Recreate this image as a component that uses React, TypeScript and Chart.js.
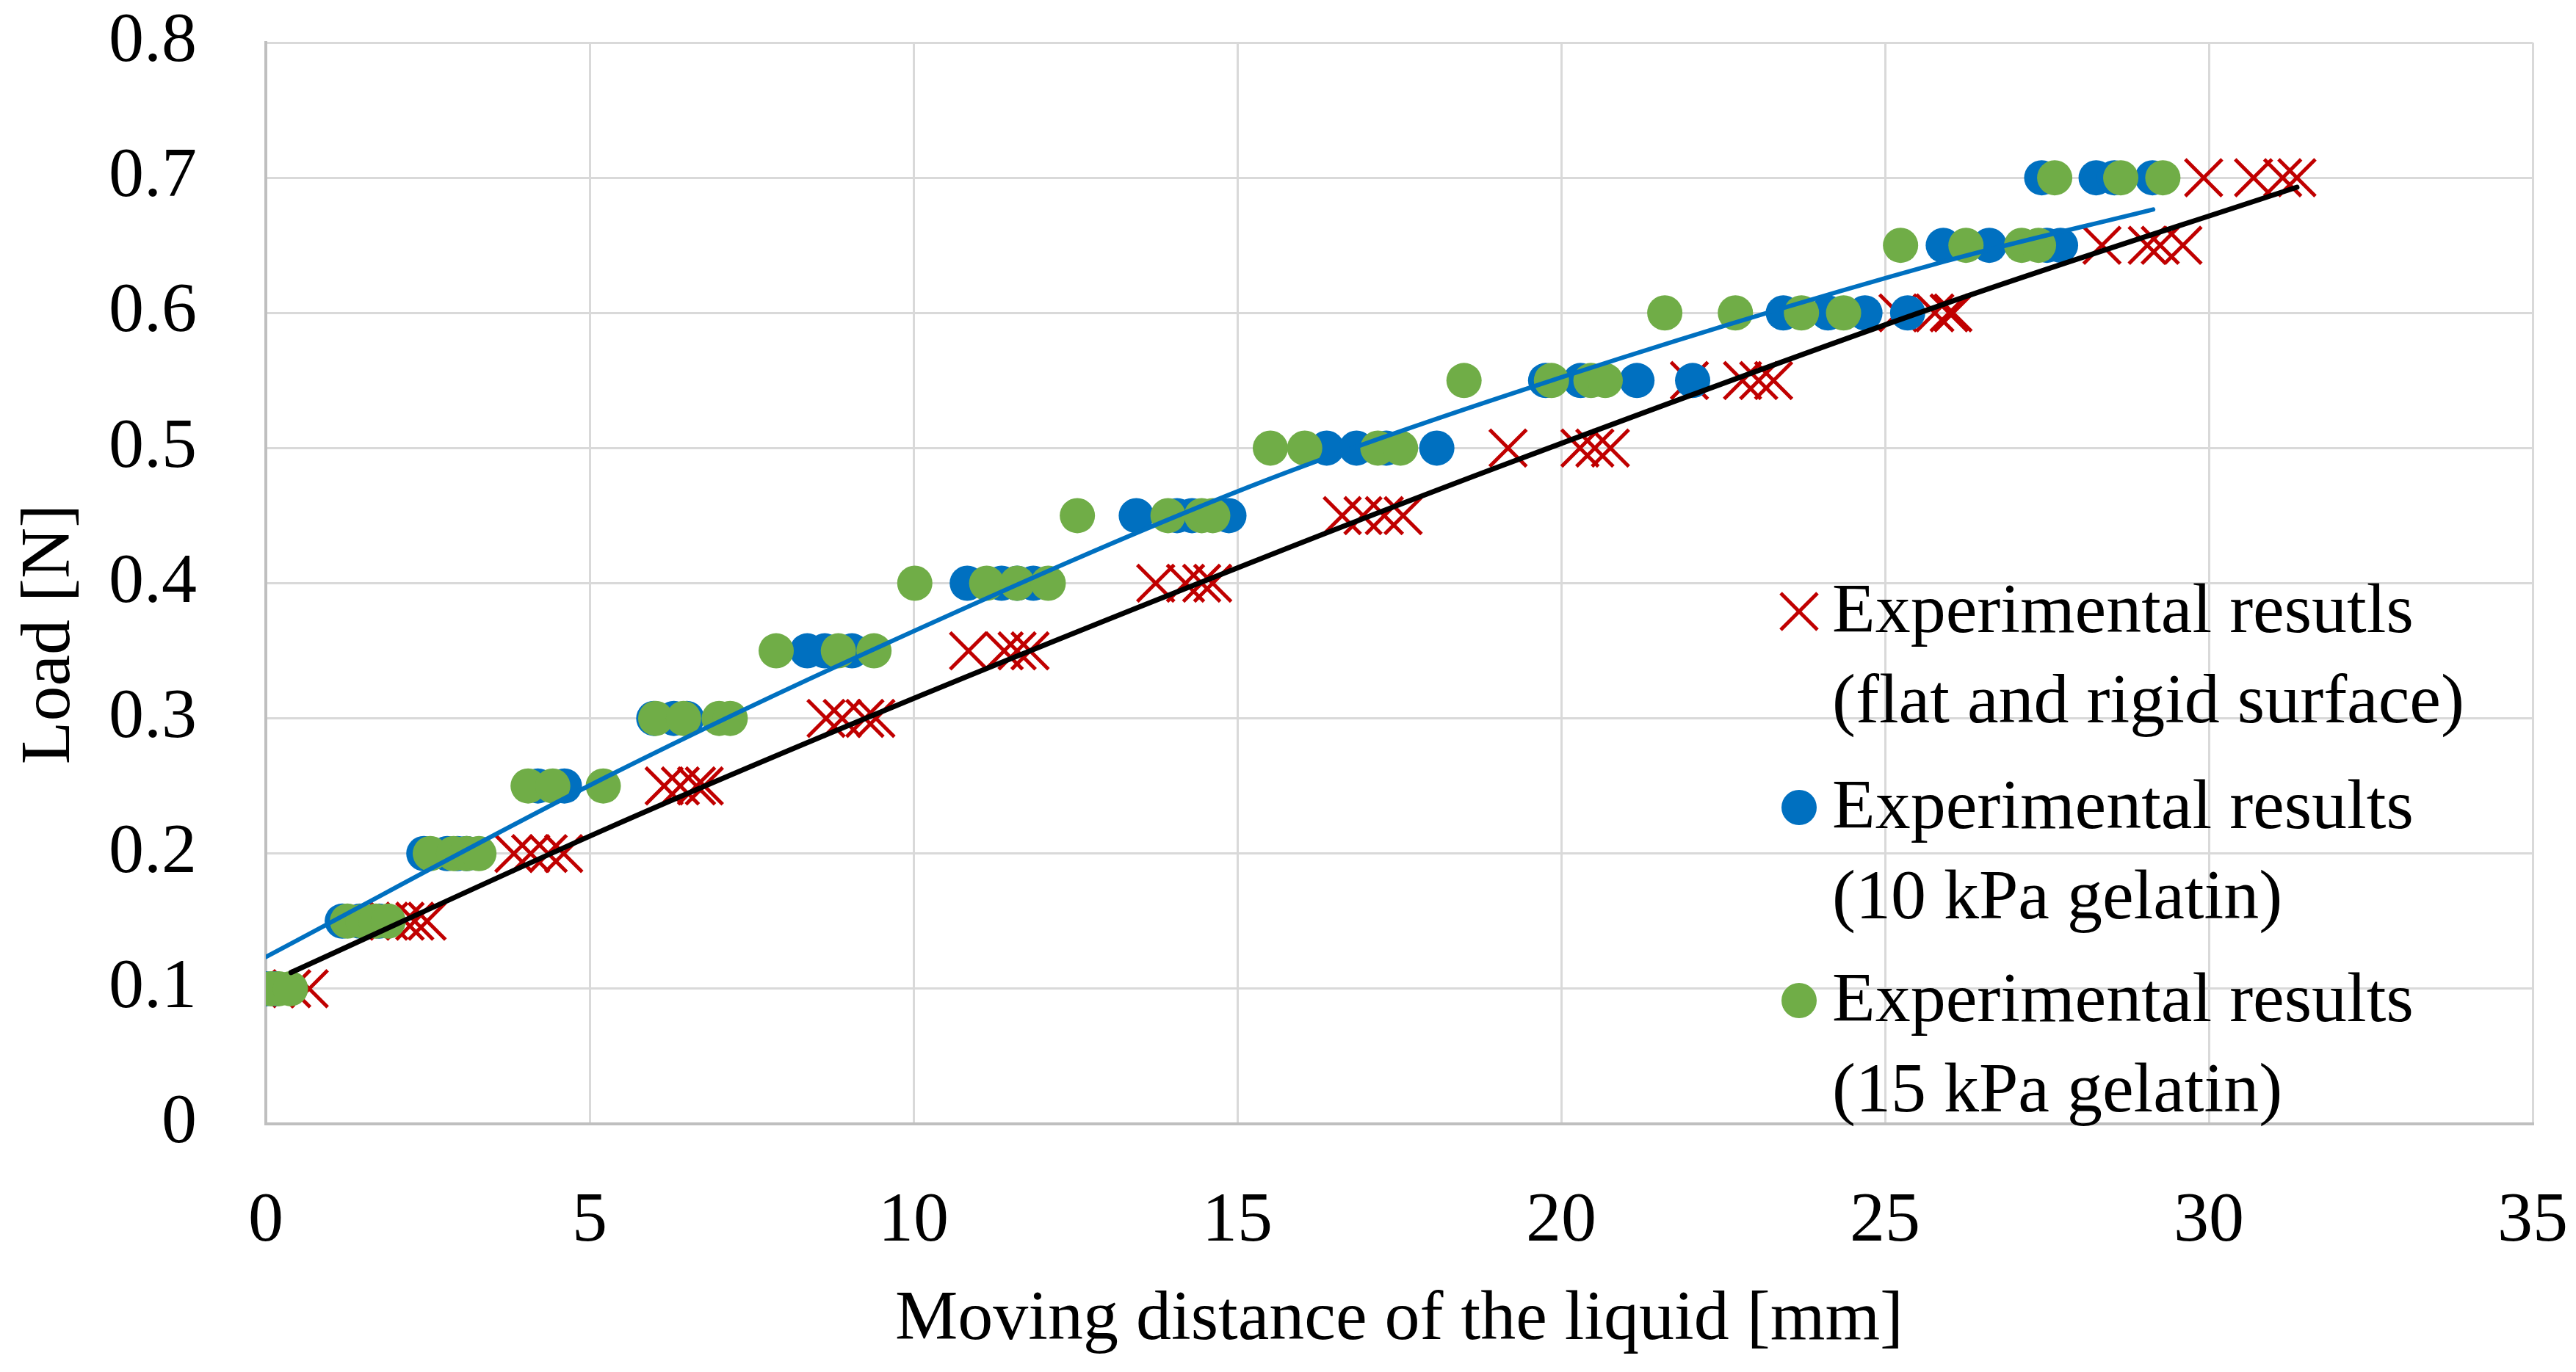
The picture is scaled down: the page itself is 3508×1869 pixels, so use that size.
import { useEffect, useRef } from "react"
import { Chart, registerables } from "chart.js"

Chart.register(...registerables)

// flat and rigid surface (red crosses)
const rigidX = [
  0.15, 0.4, 0.67,
  1.9, 2.15, 2.3, 2.49,
  3.83, 4.09, 4.36, 4.6,
  6.15, 6.4, 6.65, 6.77,
  8.65, 8.9, 9.25, 9.42,
  10.85, 11.4, 11.6, 11.8,
  13.74, 14.2, 14.45, 14.62,
  16.62, 16.94, 17.27, 17.56,
  19.18, 20.29, 20.52, 20.76,
  21.98, 22.8, 23.05, 23.28,
  25.2, 25.77, 25.99, 26.05,
  28.35, 29.05, 29.25, 29.6,
  29.92, 30.69, 31.14, 31.36,
]
const rigidY = [
  0.1, 0.1, 0.1,
  0.15, 0.15, 0.15, 0.15,
  0.2, 0.2, 0.2, 0.2,
  0.25, 0.25, 0.25, 0.25,
  0.3, 0.3, 0.3, 0.3,
  0.35, 0.35, 0.35, 0.35,
  0.4, 0.4, 0.4, 0.4,
  0.45, 0.45, 0.45, 0.45,
  0.5, 0.5, 0.5, 0.5,
  0.55, 0.55, 0.55, 0.55,
  0.6, 0.6, 0.6, 0.6,
  0.65, 0.65, 0.65, 0.65,
  0.7, 0.7, 0.7, 0.7,
]

// 10 kPa gelatin (blue dots)
const gel10X = [
  0.0, 0.15,
  1.18, 1.45, 1.75,
  2.44, 2.8, 2.96, 3.1,
  4.2, 4.61,
  5.99, 6.3, 6.5,
  8.36, 8.63, 9.05,
  10.83, 11.36, 11.6, 11.85,
  13.44, 14.07, 14.3, 14.87,
  16.38, 16.84, 17.3, 18.08,
  19.76, 20.3, 21.17, 22.03,
  23.43, 24.12, 24.69, 25.35,
  25.9, 26.61, 27.5, 27.71,
  27.42, 28.26, 28.54, 29.13,
]
const gel10Y = [
  0.1, 0.1,
  0.15, 0.15, 0.15,
  0.2, 0.2, 0.2, 0.2,
  0.25, 0.25,
  0.3, 0.3, 0.3,
  0.35, 0.35, 0.35,
  0.4, 0.4, 0.4, 0.4,
  0.45, 0.45, 0.45, 0.45,
  0.5, 0.5, 0.5, 0.5,
  0.55, 0.55, 0.55, 0.55,
  0.6, 0.6, 0.6, 0.6,
  0.65, 0.65, 0.65, 0.65,
  0.7, 0.7, 0.7, 0.7,
]

// 15 kPa gelatin (green dots)
const gel15X = [
  0.08, 0.2, 0.38,
  1.26, 1.5, 1.7, 1.89,
  2.54, 2.9, 3.1, 3.29,
  4.05, 4.43, 5.21,
  6.02, 6.45, 7.0, 7.17,
  7.88, 8.84, 9.39,
  10.02, 11.13, 11.6, 12.08,
  12.53, 13.93, 14.45, 14.62,
  15.51, 16.04, 17.17, 17.52,
  18.5, 19.85, 20.46, 20.68,
  21.6, 22.69, 23.71, 24.36,
  25.24, 26.25, 27.11, 27.37,
  27.62, 28.64, 29.29,
]
const gel15Y = [
  0.1, 0.1, 0.1,
  0.15, 0.15, 0.15, 0.15,
  0.2, 0.2, 0.2, 0.2,
  0.25, 0.25, 0.25,
  0.3, 0.3, 0.3, 0.3,
  0.35, 0.35, 0.35,
  0.4, 0.4, 0.4, 0.4,
  0.45, 0.45, 0.45, 0.45,
  0.5, 0.5, 0.5, 0.5,
  0.55, 0.55, 0.55, 0.55,
  0.6, 0.6, 0.6, 0.6,
  0.65, 0.65, 0.65, 0.65,
  0.7, 0.7, 0.7,
]

// trend lines
const rigidTrendX = [0.39, 5.3, 9.5, 15.17, 19.13, 25.94, 31.36]
const rigidTrendY = [0.112, 0.2192, 0.3048, 0.4145, 0.4878, 0.607, 0.693]
const gel10TrendX = [0, 5.3, 9.5, 15.17, 19.13, 25.94, 29.14]
const gel10TrendY = [0.1235, 0.2577, 0.3536, 0.4711, 0.5386, 0.6383, 0.6765]

const xTicks = ["0", "5", "10", "15", "20", "25", "30", "35"]
const yTicks = ["0", "0.1", "0.2", "0.3", "0.4", "0.5", "0.6", "0.7", "0.8"]

const xTitle = "Moving distance of the liquid [mm]"
const yTitle = "Load [N]"
const legendText = [
  ["Experimental resutls", "(flat and rigid surface)"],
  ["Experimental results", "(10 kPa gelatin)"],
  ["Experimental results", "(15 kPa gelatin)"],
]

const RED = "#C00000"
const BLUE = "#0070C0"
const GREEN = "#70AD47"
const FONT = '"Liberation Serif", "Times New Roman", serif'
const FONT_SIZE = 96

const zip = (xs: number[], ys: number[]) => xs.map((x, i) => ({ x, y: ys[i] }))

const textPlugin = {
  id: "textAndLegend",
  afterDraw(chart: any) {
    const ctx = chart.ctx as CanvasRenderingContext2D
    const area = chart.chartArea
    ctx.save()
    ctx.fillStyle = "#000"
    ctx.font = `${FONT_SIZE}px ${FONT}`
    ctx.textBaseline = "alphabetic"

    // axis titles
    ctx.textAlign = "center"
    ctx.fillText(xTitle, (area.left + area.right) / 2, 1824)
    ctx.save()
    ctx.translate(94, 864)
    ctx.rotate(-Math.PI / 2)
    ctx.fillText(yTitle, 0, 0)
    ctx.restore()

    // legend
    ctx.textAlign = "left"
    const tops = [861, 1128, 1391]
    const markX = 2450
    const textX = 2495
    legendText.forEach((lines, i) => {
      const base = tops[i]
      const cy = base - 28
      if (i === 0) {
        ctx.strokeStyle = RED
        ctx.lineWidth = 5
        ctx.beginPath()
        ctx.moveTo(markX - 25, cy - 25)
        ctx.lineTo(markX + 25, cy + 25)
        ctx.moveTo(markX + 25, cy - 25)
        ctx.lineTo(markX - 25, cy + 25)
        ctx.stroke()
      } else {
        ctx.fillStyle = i === 1 ? BLUE : GREEN
        ctx.beginPath()
        ctx.arc(markX, cy, 24, 0, Math.PI * 2)
        ctx.fill()
      }
      ctx.fillStyle = "#000"
      ctx.fillText(lines[0], textX, base)
      ctx.fillText(lines[1], textX, base + 123)
    })
    ctx.restore()
  },
}

const App = () => {
  const canvasRef = useRef<HTMLCanvasElement | null>(null)

  useEffect(() => {
    if (!canvasRef.current) return

    Chart.defaults.font.family = FONT
    Chart.defaults.font.size = FONT_SIZE
    Chart.defaults.color = "#000"

    const chart = new Chart(canvasRef.current, {
      type: "scatter",
      data: {
        datasets: [
          {
            label: legendText[0].join(" "),
            data: zip(rigidX, rigidY),
            pointStyle: "crossRot",
            pointRadius: 35.5,
            pointHoverRadius: 35.5,
            borderColor: RED,
            backgroundColor: RED,
            pointBorderWidth: 5,
            order: 5,
          },
          {
            label: legendText[1].join(" "),
            data: zip(gel10X, gel10Y),
            pointStyle: "circle",
            pointRadius: 24,
            pointBorderWidth: 0,
            borderColor: BLUE,
            backgroundColor: BLUE,
            order: 4,
          },
          {
            label: legendText[2].join(" "),
            data: zip(gel15X, gel15Y),
            pointStyle: "circle",
            pointRadius: 24,
            pointBorderWidth: 0,
            borderColor: GREEN,
            backgroundColor: GREEN,
            order: 3,
          },
          {
            label: "trend rigid",
            data: zip(rigidTrendX, rigidTrendY),
            showLine: true,
            pointRadius: 0,
            borderColor: "#000",
            borderWidth: 7,
            borderCapStyle: "round",
            cubicInterpolationMode: "monotone",
            order: 2,
          },
          {
            label: "trend 10 kPa",
            data: zip(gel10TrendX, gel10TrendY),
            showLine: true,
            pointRadius: 0,
            borderColor: BLUE,
            borderWidth: 6,
            borderCapStyle: "round",
            cubicInterpolationMode: "monotone",
            order: 1,
          },
        ],
      },
      options: {
        animation: false,
        responsive: false,
        devicePixelRatio: 1,
        layout: { padding: { top: 58, right: 59, left: 0, bottom: 0 } },
        plugins: {
          legend: { display: false },
          tooltip: { enabled: false },
        },
        scales: {
          x: {
            type: "linear",
            min: 0,
            max: 35,
            afterFit: (s: any) => {
              s.height = 338
              s.paddingLeft = 0
              s.paddingRight = 0
            },
            ticks: {
              stepSize: 5,
              padding: 76,
              callback: (v: any) => xTicks[Math.round(Number(v) / 5)] ?? "",
            },
            grid: { color: "#D9D9D9", lineWidth: 3, drawTicks: false },
            border: { color: "#BFBFBF", width: 4 },
          },
          y: {
            type: "linear",
            min: 0,
            max: 0.8,
            afterFit: (s: any) => {
              s.width = 362
              s.paddingTop = 0
              s.paddingBottom = 0
            },
            ticks: {
              stepSize: 0.1,
              padding: 94,
              callback: (v: any) => yTicks[Math.round(Number(v) * 10)] ?? "",
            },
            grid: { color: "#D9D9D9", lineWidth: 3, drawTicks: false },
            border: { color: "#BFBFBF", width: 4 },
          },
        },
      },
      plugins: [textPlugin],
    })

    return () => {
      chart.destroy()
    }
  }, [])

  return (
    <div style={{ position: "fixed", left: 0, top: 0, width: 3508, height: 1869, background: "#fff" }}>
      <canvas ref={canvasRef} width={3508} height={1869} />
    </div>
  )
}

export default App
